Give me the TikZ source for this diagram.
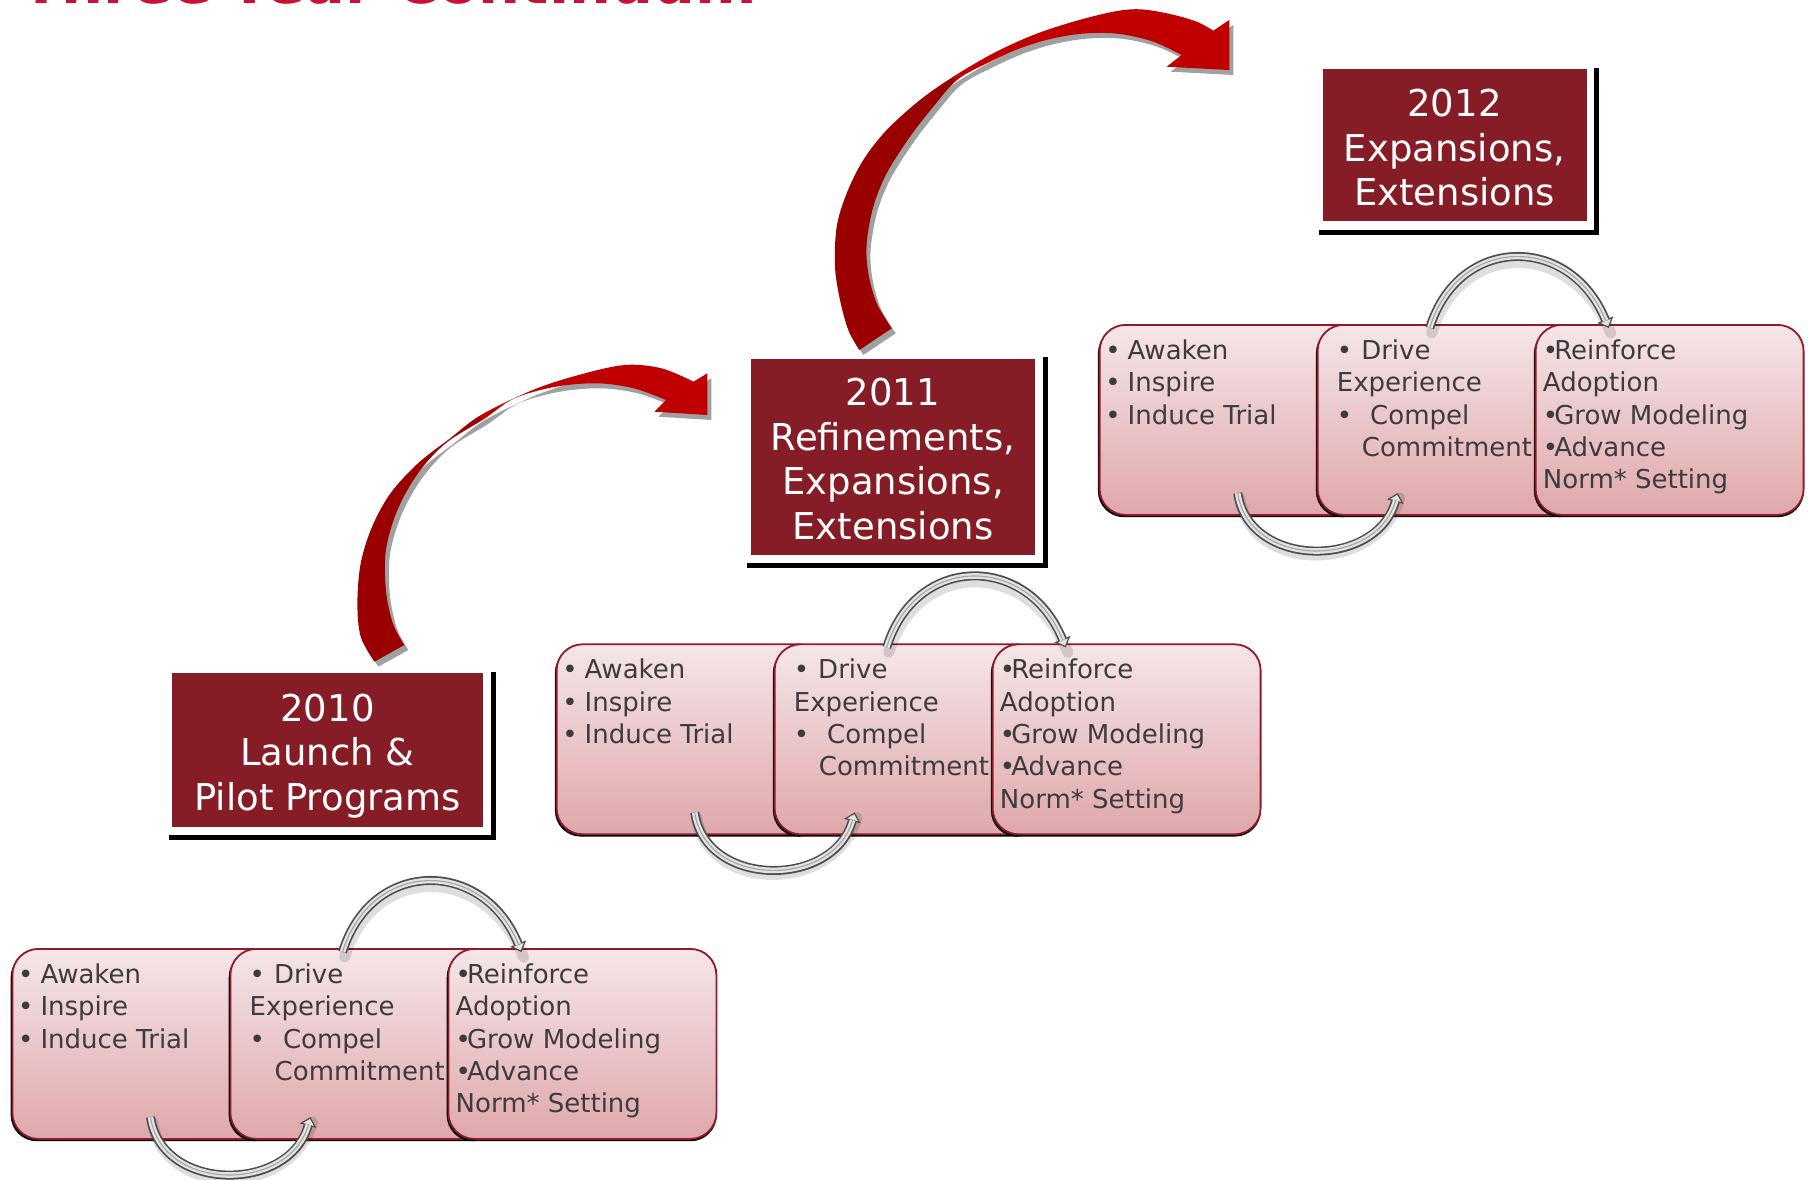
\documentclass[tikz,border=0pt]{standalone}
\usepackage{fontspec}
\setmainfont{DejaVu Sans}
\usetikzlibrary{arrows.meta,backgrounds}

\definecolor{titlered}{HTML}{CC1035}
\definecolor{yearred}{HTML}{861C26}
\definecolor{phasetop}{HTML}{F5E6E8}
\definecolor{phasebot}{HTML}{DFA7AB}
\definecolor{phaseedge}{HTML}{8E1B2A}
\definecolor{bodytext}{HTML}{3C3C3C}
\definecolor{arrowdark}{HTML}{9A0000}
\definecolor{arrowbright}{HTML}{C00000}
\definecolor{arrowshade}{HTML}{A0A0A0}
\definecolor{tubeedge}{HTML}{4E4E4E}
\definecolor{tubefill}{HTML}{E2E2E2}
\definecolor{tubemid}{HTML}{A4A4A4}

\tikzset{
  yearbox/.style={rectangle, fill=yearred, inner sep=0pt},
  yeartext/.style={text=white, align=center, inner sep=0pt,
    font=\fontsize{37}{44.5}\selectfont},
  phasecard/.style={rectangle, rounded corners=26pt, draw=phaseedge,
    line width=1.8pt, top color=phasetop, bottom color=phasebot,
    minimum width=268pt, minimum height=190pt, inner sep=0pt, anchor=north west},
  phaseshade/.style={rectangle, rounded corners=26pt, fill=black,
    minimum width=270pt, minimum height=190pt, inner sep=0pt, anchor=north west},
  % multi-line nodes sit on the baseline of their last line
  phasetext/.style={anchor=base west, align=left, inner sep=0pt, text=bodytext,
    font=\fontsize{26}{32.3}\selectfont},
  tubeshadow/.style={line width=11pt, draw=black, opacity=0.13, line cap=round,
    transform canvas={xshift=2pt, yshift=-5pt}},
  tubeouter/.style={line width=9pt, draw=tubeedge,
    -{Triangle[length=9pt, width=17pt, line width=1.2pt, fill=tubefill]}},
  tubeinner/.style={line width=5.6pt, draw=tubefill, shorten >=8pt},
  tubecore/.style={line width=1.1pt, draw=tubemid, shorten >=8pt},
}

% one gray tube arrow: start, first control, second control, end
\newcommand\tubearc[4]{%
  \draw[tubeshadow] #1 .. controls #2 and #3 .. #4;
  \draw[tubeouter] #1 .. controls #2 and #3 .. #4;
  \draw[tubeinner] #1 .. controls #2 and #3 .. #4;
  \draw[tubecore] #1 .. controls #2 and #3 .. #4;
}

% three overlapping cards with their two cycle arrows
\newcommand\phasegroup[2]{%
  \begin{scope}[shift={#2}]
    \node[phaseshade] (#1sa) at (-1,3) {};
    \node[phasecard] (#1a) at (0,0) {};
    \node[phasetext] (#1ta) at (6.5,100.1)
      {•\hspace*{7pt}Awaken\\•\hspace*{7pt}Inspire\\•\hspace*{7pt}Induce Trial};
    \node[phaseshade] (#1sb) at (217,3) {};
    \node[phasecard] (#1b) at (218,0) {};
    \node[phasetext] (#1tb) at (238,132.4)
      {•\hspace*{9pt}Drive\\Experience\\•\hspace*{18pt}Compel\\\hspace*{25pt}Commitment};
    \node[phaseshade] (#1sc) at (435,3) {};
    \node[phasecard] (#1c) at (436,0) {};
    \node[phasetext] (#1tc) at (444,164.7)
      {•\kern-4pt Reinforce\\Adoption\\•\kern-4pt Grow Modeling\\•\kern-4pt Advance\\Norm* Setting};
  \end{scope}
  \tubearc{([shift={(113,4)}]#1b.north west)}{+(29,-94)}{+(-38,-94)}{([shift={(74,4)}]#1c.north west)}
  \tubearc{([shift={(139,169)}]#1a.north west)}{+(11,76)}{+(-21,76)}{([shift={(81,169)}]#1b.north west)}
}

% ribbon arrows between the year boxes
\newcommand\bendarrowA{plot[smooth, tension=0.55] coordinates {(374.4,661.7) (360.7,636.7)
  (357.4,603.3) (360.7,563.3) (372.1,526.7) (390.5,493.3) (418,463.3) (450.2,438.3)
  (481,415) (532.8,390) (578.7,375) (624.7,365) (661.4,368.3) (693.5,381.7)}
  -- (707.3,373.3) -- (707.3,415) -- (654.5,411.7)
  -- plot[smooth, tension=0.55] coordinates {(666,400) (633.8,388.3) (597.1,383.3)
  (555.8,386.7) (514.5,398.3) (484,419) (445.6,443.3) (418,473.3) (397.4,510)
  (385.9,550) (385.9,590) (392.8,623.3) (404.3,645)} -- cycle}
\newcommand\bendarrowB{plot[smooth, tension=0.55] coordinates {(859.3,350) (848.3,330)
  (840,300) (835,266.7) (836.7,226.7) (846.7,193.3) (863.3,160) (886.7,130) (920,100)
  (953.3,76.7) (993.3,53.3) (1033.3,35) (1073.3,21.7) (1113.3,11.7) (1140,9.3)
  (1170,14) (1196.7,21.7) (1213.3,30.7)}
  -- (1229.3,20) -- (1229.3,70) -- (1166.7,66.7)
  -- plot[smooth, tension=0.55] coordinates {(1181.7,55) (1153.3,41.7) (1120,34)
  (1086.7,33.3) (1053.3,38.3) (1020,48.3) (986.7,63.3) (957,80) (933.3,106.7)
  (910,136.7) (886.7,173.3) (873.3,206.7) (866.7,243.3) (868.3,273.3) (876.7,303.3)
  (891.7,328.3)} -- cycle}

\begin{document}
\begin{tikzpicture}[x=1pt, y=-1pt]
  \useasboundingbox (0,0) rectangle (1808,1180);
  \clip (0,0) rectangle (1808,1180);

  % heading, cut by the top edge
  \node[anchor=base west, inner sep=0pt, text=titlered,
    font=\bfseries\fontsize{59}{61}\selectfont] (heading) at (21,4) {Three-Year Continuum};

  % year boxes
  \node[yearbox, minimum width=311.6pt, minimum height=153.4pt] (y10) at (327.5,750) {};
  \node[yeartext] (y10t) at ([yshift=-6pt]y10.center) {2010\\Launch \&\\Pilot Programs};
  \node[yearbox, minimum width=284.8pt, minimum height=196pt] (y11) at (893,456.6) {};
  \node[yeartext] (y11t) at ([yshift=-2.5pt]y11.center) {2011\\Refinements,\\Expansions,\\Extensions};
  \node[yearbox, minimum width=264pt, minimum height=152.4pt] (y12) at (1454.5,145.2) {};
  \node[yeartext] (y12t) at ([yshift=-2.5pt]y12.center) {2012\\Expansions,\\Extensions};
  \begin{scope}[on background layer]
    \fill[white] (0,0) rectangle (1808,1180);
    \foreach \b in {y10,y11,y12}{
      \fill[black] ([shift={(-3,-1)}]\b.north west) rectangle ([shift={(12,13)}]\b.south east);
      \fill[white] ([shift={(-8,-8)}]\b.north west) rectangle ([shift={(7,8)}]\b.south east);
    }
  \end{scope}

  % ribbon arrows with their gray shadows
  \fill[arrowshade, shift={(4,5)}] \bendarrowA;
  \begin{scope}
    \clip (0,0) rectangle (480,1180);
    \fill[arrowdark] \bendarrowA;
  \end{scope}
  \begin{scope}
    \clip (480,0) rectangle (1808,1180);
    \fill[arrowbright] \bendarrowA;
  \end{scope}
  \fill[arrowshade, shift={(4,5)}] \bendarrowB;
  \begin{scope}
    \clip (0,0) rectangle (955,1180);
    \fill[arrowdark] \bendarrowB;
  \end{scope}
  \begin{scope}
    \clip (955,0) rectangle (1808,1180);
    \fill[arrowbright] \bendarrowB;
  \end{scope}

  % the three phase groups
  \phasegroup{p}{(11.5,948)}
  \phasegroup{q}{(555.7,643.4)}
  \phasegroup{r}{(1098.7,324)}
\end{tikzpicture}
\end{document}
